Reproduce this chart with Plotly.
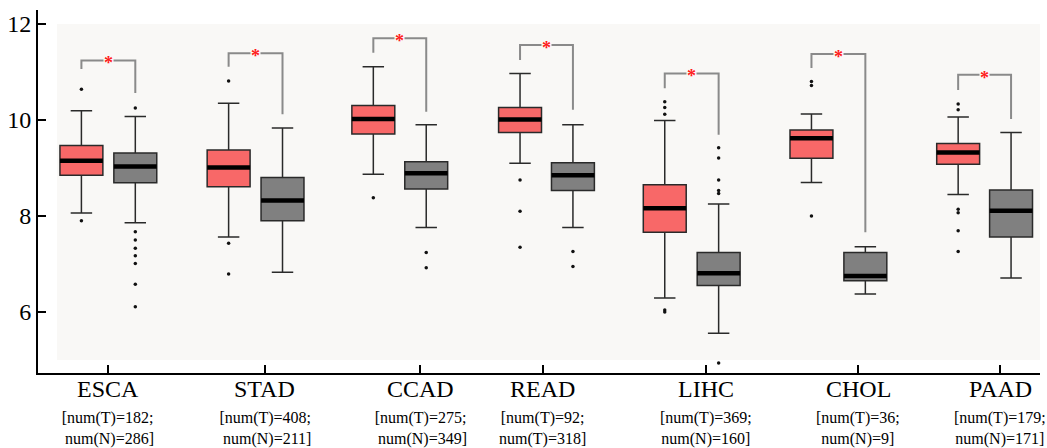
import plotly.graph_objects as go

# ---------------- data ----------------
categories = ["ESCA", "STAD", "CCAD", "READ", "LIHC", "CHOL", "PAAD"]
sample_labels = [
    "[num(T)=182;<br> num(N)=286]",
    "[num(T)=408;<br> num(N)=211]",
    "[num(T)=275;<br> num(N)=349]",
    "[num(T)=92;<br>num(T)=318]",
    "[num(T)=369;<br>num(N)=160]",
    "[num(T)=36;<br>num(N)=9]",
    "[num(T)=179;<br>num(N)=171]",
]

# tumour boxes
tumor_lower = [8.06, 7.56, 8.87, 9.10, 6.29, 8.70, 8.45]
tumor_q1 = [8.85, 8.61, 9.71, 9.74, 7.66, 9.20, 9.08]
tumor_median = [9.15, 9.01, 10.02, 10.01, 8.16, 9.62, 9.32]
tumor_q3 = [9.47, 9.375, 10.30, 10.26, 8.65, 9.79, 9.51]
tumor_upper = [10.19, 10.35, 11.11, 10.97, 9.99, 10.125, 10.06]
tumor_outliers = [
    [10.64, 7.90],
    [10.81, 7.43, 6.79],
    [8.38],
    [8.75, 8.10, 7.35],
    [10.38, 10.26, 10.12, 6.04, 6.00],
    [10.80, 10.72, 8.00],
    [10.33, 10.21, 8.14, 8.07, 7.69, 7.26],
]

# normal boxes
normal_lower = [7.86, 6.83, 7.76, 7.76, 5.56, 6.375, 6.71]
normal_q1 = [8.69, 7.90, 8.56, 8.53, 6.55, 6.65, 7.56]
normal_median = [9.03, 8.32, 8.89, 8.85, 6.81, 6.75, 8.11]
normal_q3 = [9.31, 8.80, 9.13, 9.11, 7.24, 7.24, 8.54]
normal_upper = [10.07, 9.83, 9.90, 9.90, 8.25, 7.36, 9.74]
normal_outliers = [
    [10.25, 7.67, 7.50, 7.33, 7.17, 7.01, 6.58, 6.11],
    [],
    [7.24, 6.92],
    [7.26, 6.95],
    [9.42, 9.21, 8.75, 8.53, 8.47, 4.94],
    [],
    [],
]

# significance brackets
sig_top = [11.24, 11.39, 11.70, 11.56, 10.97, 11.375, 10.94]
sig_left_end = [11.06, 11.11, 11.40, 11.25, 10.66, 11.08, 10.625]
sig_right_end = [10.56, 10.12, 10.17, 10.21, 9.69, 7.66, 10.02]

y_ticks = [6, 8, 10, 12]

# ---------------- layout helpers (positions on the x scale) ----------------
tick_x = [106, 263, 419, 542, 705, 858, 1000]
tumor_x = [79.5, 227, 372, 519, 664, 811, 958]
normal_x = [133.5, 281, 425, 572, 718, 865, 1011]
box_w = 43

FONT = "Liberation Serif"
RED = "rgb(248,104,104)"
GREY = "rgb(128,128,128)"
PANEL = "#f9f8f6"

fig = go.Figure()


def add_box(x, lo, q1, med, q3, hi, fill):
    fig.add_trace(go.Box(
        x=[x], q1=[q1], median=[med], q3=[q3], lowerfence=[lo], upperfence=[hi],
        width=box_w, fillcolor=fill, whiskerwidth=0.5,
        line=dict(color="#2a2a2a", width=1.5),
        boxpoints=False, hoverinfo="skip", showlegend=False,
    ))
    fig.add_trace(go.Scatter(
        x=[x - box_w / 2, x + box_w / 2], y=[med, med], mode="lines",
        line=dict(color="black", width=4.5), hoverinfo="skip", showlegend=False,
    ))


def add_points(x, vals):
    if vals:
        fig.add_trace(go.Scatter(
            x=[x] * len(vals), y=vals, mode="markers",
            marker=dict(color="#111111", size=3.5), hoverinfo="skip", showlegend=False,
        ))


for i in range(len(categories)):
    add_box(tumor_x[i], tumor_lower[i], tumor_q1[i], tumor_median[i], tumor_q3[i], tumor_upper[i], RED)
    add_box(normal_x[i], normal_lower[i], normal_q1[i], normal_median[i], normal_q3[i], normal_upper[i], GREY)
    add_points(tumor_x[i], tumor_outliers[i])
    add_points(normal_x[i], normal_outliers[i])

shapes = [dict(type="rect", xref="x", yref="y", x0=55, x1=1040, y0=5.0, y1=12.0,
               fillcolor=PANEL, line=dict(width=0), layer="below")]
annotations = []
for i in range(len(categories)):
    xl, xr, yt = tumor_x[i], normal_x[i], sig_top[i]
    shapes.append(dict(
        type="path", xref="x", yref="y",
        path=f"M {xl},{sig_left_end[i]} L {xl},{yt} L {xr},{yt} L {xr},{sig_right_end[i]}",
        line=dict(color="#8a8a8a", width=2), layer="above",
    ))
    annotations.append(dict(
        x=(xl + xr) / 2, y=yt, xref="x", yref="y", text="<b>*</b>", showarrow=False,
        font=dict(family=FONT, size=18, color="#ff1a1a"), bgcolor=PANEL,
        borderpad=0, yanchor="middle", yshift=-3,
    ))
    annotations.append(dict(
        x=tick_x[i], y=0, xref="x", yref="paper", text=categories[i], showarrow=False,
        font=dict(family=FONT, size=24, color="black"), yanchor="middle", yshift=-16,
    ))
    annotations.append(dict(
        x=tick_x[i], y=0, xref="x", yref="paper", text=sample_labels[i], showarrow=False,
        font=dict(family=FONT, size=16, color="black"), yanchor="top", yshift=-34,
        align="center",
    ))

fig.update_layout(
    width=1047, height=448,
    margin=dict(l=36, r=7, t=10, b=75),
    paper_bgcolor="white", plot_bgcolor="white",
    font=dict(family=FONT, color="black"),
    shapes=shapes, annotations=annotations,
    xaxis=dict(range=[36, 1040], tickmode="array", tickvals=tick_x,
               ticktext=[""] * len(tick_x),
               ticks="inside", ticklen=8, tickwidth=2, tickcolor="black",
               showline=True, linewidth=2, linecolor="black", showgrid=False,
               zeroline=False),
    yaxis=dict(range=[4.73, 12.29], tickmode="array", tickvals=y_ticks,
               ticks="inside", ticklen=8, tickwidth=2, tickcolor="black",
               showline=True, linewidth=2, linecolor="black", showgrid=False,
               zeroline=False, tickfont=dict(family=FONT, size=24)),
)

fig.write_html("out.html", config={"displayModeBar": False},
               post_script="document.body.style.margin='0';document.body.style.overflow='hidden';")
